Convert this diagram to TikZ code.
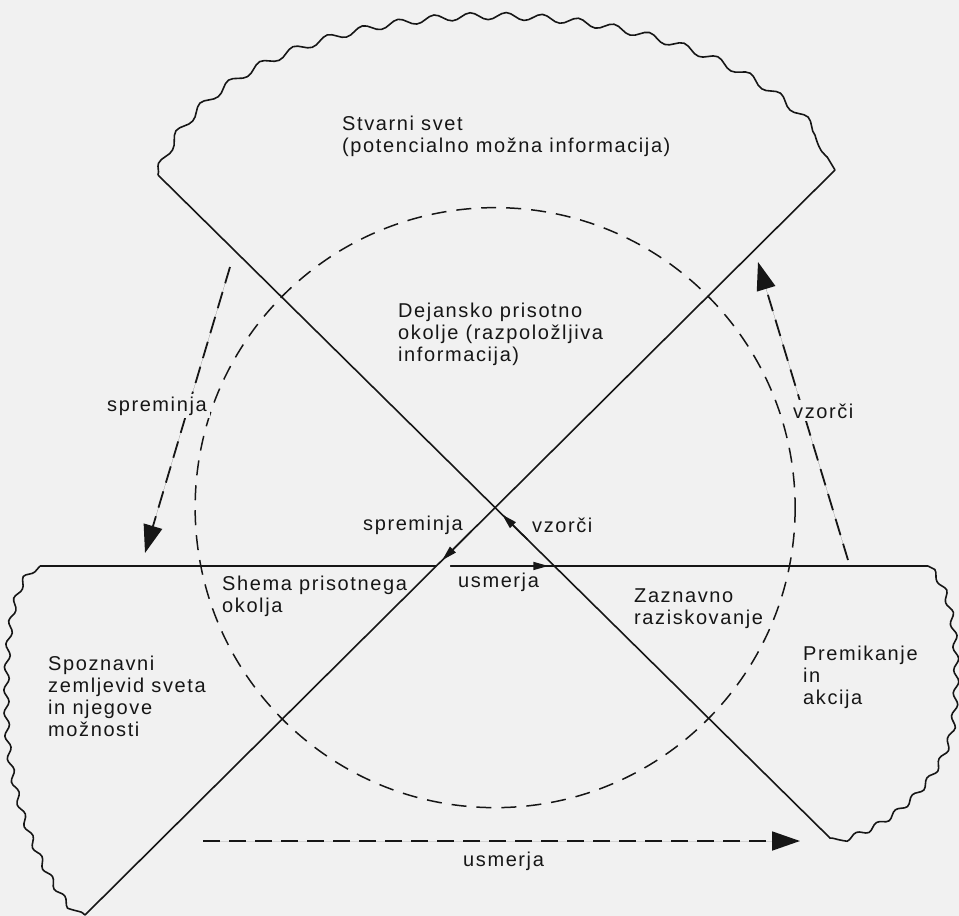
\documentclass[tikz,border=0pt]{standalone}
\usepackage{fontspec}
\setmainfont{Liberation Sans}[LetterSpace=8]
\usetikzlibrary{arrows.meta,decorations.pathmorphing,calc}
\definecolor{ink}{RGB}{22,22,22}
\definecolor{paper}{RGB}{241,241,241}
\newcommand\mylines[1]{\begin{tabular}[t]{@{}l@{}}#1\end{tabular}}
\begin{document}
\begin{tikzpicture}[x=1pt,y=-1pt,
  solidline/.style={line width=1.6pt, draw=ink},
  dashline/.style={line width=1.8pt, draw=ink, dash pattern=on 17pt off 9pt},
  circline/.style={line width=1.5pt, draw=ink, dash pattern=on 15pt off 10pt},
  wavytop/.style={line width=1.6pt, draw=ink, decoration={snake, amplitude=3.6pt, segment length=36pt}, decorate},
  wavyside/.style={line width=1.6pt, draw=ink, decoration={snake, amplitude=2.6pt, segment length=23pt}, decorate},
  bigtip/.style={-{Triangle[length=28pt,width=19pt]}},
  smalltip/.style={-{Triangle[length=15pt,width=8pt]}},
  lbl/.style={inner sep=0pt, anchor=base west, text=ink, font=\fontsize{20}{22}\selectfont},
  cover/.style={fill=paper, inner xsep=3pt, inner ysep=3pt}
]
\fill[paper] (0,0) rectangle (959,916);
\useasboundingbox (0,0) rectangle (959,916);

% main corners
\coordinate (A) at (158,175);
\coordinate (B) at (835,170);
\coordinate (C) at (40,566);
\coordinate (D) at (85,915);
\coordinate (E) at (928,566);
\coordinate (F) at (830,838);
\coordinate (X) at (intersection of A--F and B--D);
\coordinate (L2H) at (intersection of B--D and C--E);
\coordinate (L1H) at (intersection of A--F and C--E);
\coordinate (Hgap) at ($(L2H)+(14,0)$);

% solid lines
\draw[solidline] (A) -- (F);
\draw[solidline] (B) -- (D);
\draw[solidline] (C) -- (L2H);
\draw[solidline] (Hgap) -- (E);

% wavy boundaries
\draw[wavytop] (A) .. controls (230,-20) and (720,-30) .. (B);
\draw[wavyside] (C) .. controls (15,580) and (10,650) .. (12,720) .. controls (14,800) and (50,880) .. (D);
\draw[wavyside] (E) .. controls (955,595) and (955,670) .. (950,715) .. controls (945,770) and (890,825) .. (F);

% dashed circle
\draw[circline] (X) circle[radius=300];

% outer dashed arrows
\coordinate (s1) at (230,267); \coordinate (s2) at (145,553);
\coordinate (v1) at (848,560); \coordinate (v2) at (758,262);
\coordinate (u1) at (203,841); \coordinate (u2) at (800,841);
\draw[dashline,bigtip,fill=ink] (s1) -- (s2);
\draw[dashline,bigtip,fill=ink] (v1) -- (v2);
\draw[dashline,bigtip,fill=ink] (u1) -- (u2);

% inner arrows
\draw[solidline,smalltip,fill=ink] ($(X)!0.4!(L2H)$) -- ($(X)!0.9!(L2H)$);
\draw[solidline,smalltip,fill=ink] ($(L1H)!0.45!(X)$) -- ($(L1H)!0.88!(X)$);
\draw[solidline,smalltip,fill=ink] (Hgap) -- ($(L1H)+(-6,0)$);

% labels
\node[lbl] (t1) at (342,130) {\mylines{Stvarni svet\\(potencialno možna informacija)}};
\node[lbl] (t2) at (398,317) {\mylines{Dejansko prisotno\\okolje (razpoložljiva\\informacija)}};
\node[lbl,cover] (t3) at (104,411) {spreminja};
\node[lbl,cover] (t4) at (790,418) {vzorči};
\node[lbl] (t5) at (363,530) {spreminja};
\node[lbl] (t6) at (532,532) {vzorči};
\node[lbl] (t7) at (458,587) {usmerja};
\node[lbl] (t8) at (222,590) {\mylines{Shema prisotnega\\okolja}};
\node[lbl] (t9) at (634,602) {\mylines{Zaznavno\\raziskovanje}};
\node[lbl] (t10) at (48,670) {\mylines{Spoznavni\\zemljevid sveta\\in njegove\\možnosti}};
\node[lbl] (t11) at (803,660) {\mylines{Premikanje\\in\\akcija}};
\node[lbl] (t12) at (463,866) {usmerja};
\end{tikzpicture}
\end{document}
